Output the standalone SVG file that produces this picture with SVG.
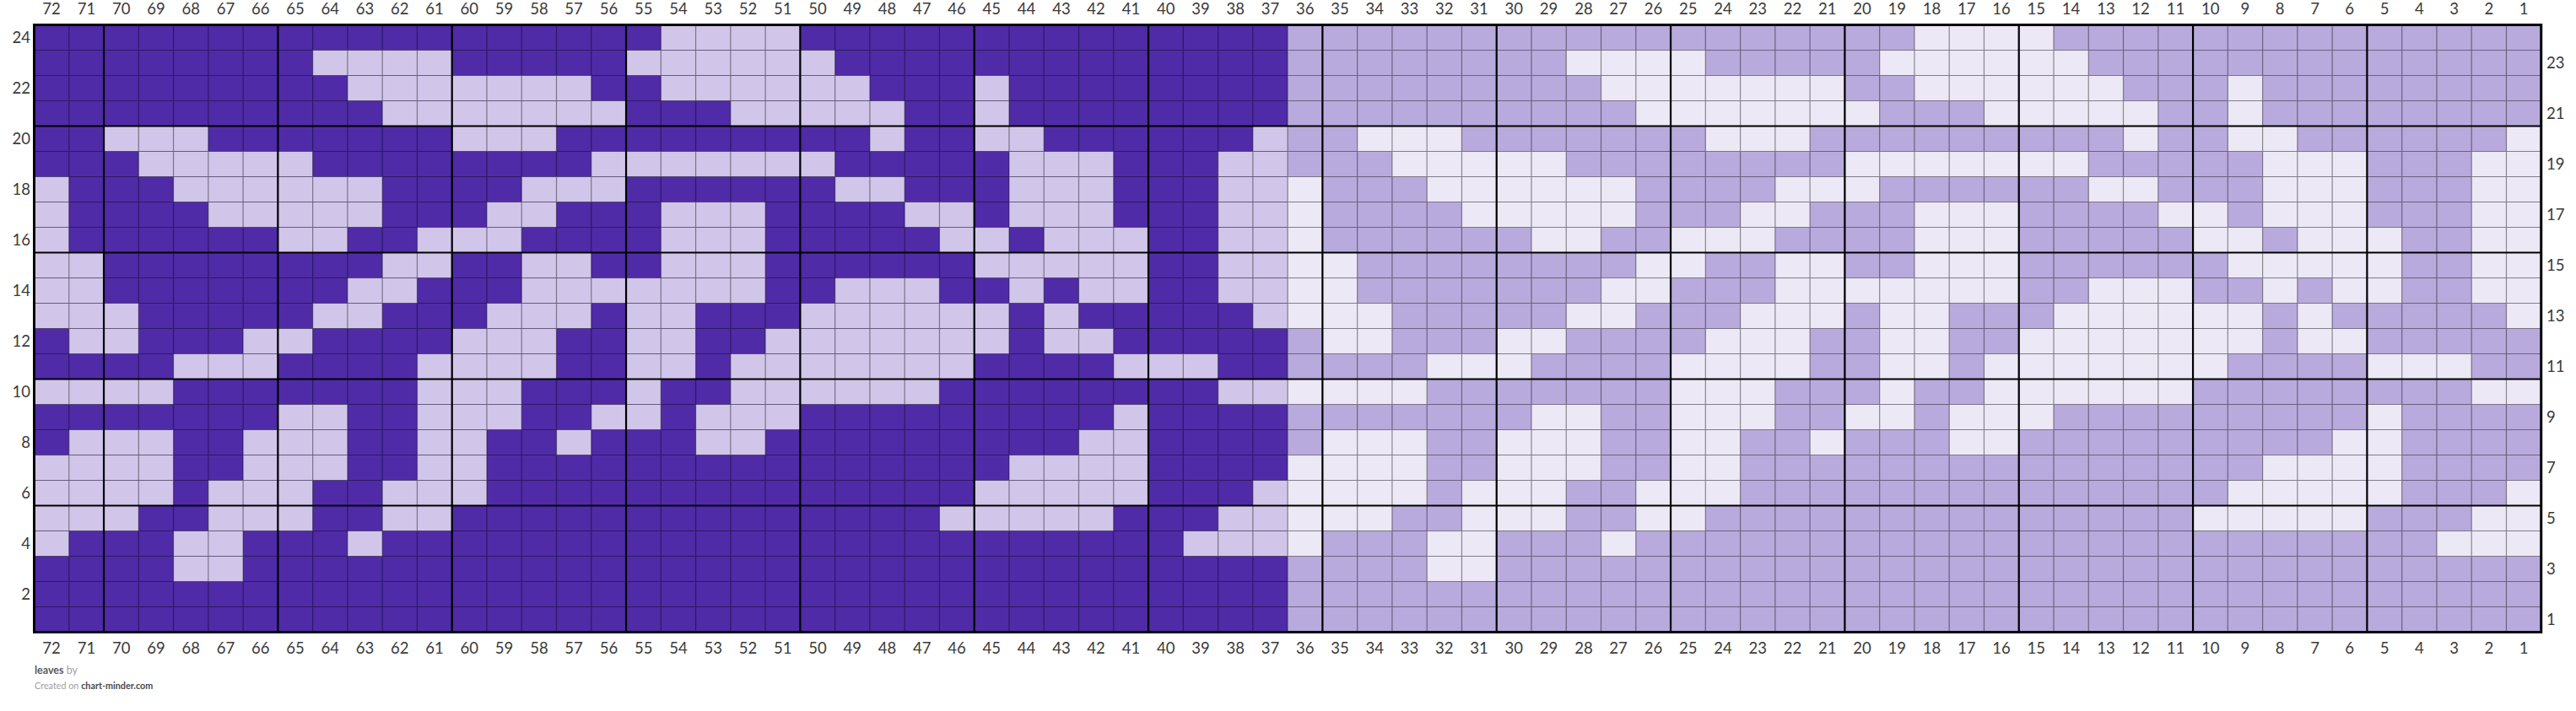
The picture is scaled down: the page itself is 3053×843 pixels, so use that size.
<svg xmlns="http://www.w3.org/2000/svg" xmlns:xlink="http://www.w3.org/1999/xlink" width="3053" height="843" viewBox="0 0 3053 843">
<style>
.lab{font-family:Lato,"Open Sans","Liberation Sans",sans-serif;font-size:18.5px;fill:#3a3a3a}
.c{text-anchor:middle}
.e{text-anchor:end}
.thin{fill:none;stroke:#000;stroke-opacity:.42;stroke-width:1.2}
.thick{fill:none;stroke:#000;stroke-width:2.2}
.border{fill:none;stroke:#000;stroke-width:3}
.foot{font-family:Lato,"Open Sans","Liberation Sans",sans-serif}
</style>
<defs>
<g id="lightRuns">
<rect x="18" y="0" width="4" height="1"/>
<rect x="8" y="1" width="4" height="1"/><rect x="17" y="1" width="6" height="1"/>
<rect x="9" y="2" width="7" height="1"/><rect x="18" y="2" width="6" height="1"/><rect x="27" y="2" width="1" height="1"/>
<rect x="10" y="3" width="7" height="1"/><rect x="20" y="3" width="5" height="1"/><rect x="27" y="3" width="1" height="1"/>
<rect x="2" y="4" width="3" height="1"/><rect x="12" y="4" width="3" height="1"/><rect x="24" y="4" width="1" height="1"/><rect x="27" y="4" width="2" height="1"/><rect x="35" y="4" width="1" height="1"/>
<rect x="3" y="5" width="5" height="1"/><rect x="16" y="5" width="7" height="1"/><rect x="28" y="5" width="3" height="1"/><rect x="34" y="5" width="2" height="1"/>
<rect x="0" y="6" width="1" height="1"/><rect x="4" y="6" width="6" height="1"/><rect x="14" y="6" width="3" height="1"/><rect x="23" y="6" width="2" height="1"/><rect x="28" y="6" width="3" height="1"/><rect x="34" y="6" width="2" height="1"/>
<rect x="0" y="7" width="1" height="1"/><rect x="5" y="7" width="5" height="1"/><rect x="13" y="7" width="2" height="1"/><rect x="18" y="7" width="3" height="1"/><rect x="25" y="7" width="2" height="1"/><rect x="28" y="7" width="3" height="1"/><rect x="34" y="7" width="2" height="1"/>
<rect x="0" y="8" width="1" height="1"/><rect x="7" y="8" width="2" height="1"/><rect x="11" y="8" width="3" height="1"/><rect x="18" y="8" width="3" height="1"/><rect x="26" y="8" width="2" height="1"/><rect x="29" y="8" width="3" height="1"/><rect x="34" y="8" width="2" height="1"/>
<rect x="0" y="9" width="2" height="1"/><rect x="10" y="9" width="2" height="1"/><rect x="14" y="9" width="2" height="1"/><rect x="18" y="9" width="3" height="1"/><rect x="27" y="9" width="5" height="1"/><rect x="34" y="9" width="2" height="1"/>
<rect x="0" y="10" width="2" height="1"/><rect x="9" y="10" width="2" height="1"/><rect x="14" y="10" width="7" height="1"/><rect x="23" y="10" width="3" height="1"/><rect x="28" y="10" width="1" height="1"/><rect x="30" y="10" width="2" height="1"/><rect x="34" y="10" width="2" height="1"/>
<rect x="0" y="11" width="3" height="1"/><rect x="8" y="11" width="2" height="1"/><rect x="13" y="11" width="3" height="1"/><rect x="17" y="11" width="2" height="1"/><rect x="22" y="11" width="6" height="1"/><rect x="29" y="11" width="1" height="1"/><rect x="35" y="11" width="1" height="1"/>
<rect x="1" y="12" width="2" height="1"/><rect x="6" y="12" width="2" height="1"/><rect x="12" y="12" width="3" height="1"/><rect x="17" y="12" width="2" height="1"/><rect x="21" y="12" width="7" height="1"/><rect x="29" y="12" width="2" height="1"/>
<rect x="4" y="13" width="3" height="1"/><rect x="11" y="13" width="4" height="1"/><rect x="17" y="13" width="2" height="1"/><rect x="20" y="13" width="7" height="1"/><rect x="31" y="13" width="3" height="1"/>
<rect x="0" y="14" width="4" height="1"/><rect x="11" y="14" width="3" height="1"/><rect x="17" y="14" width="1" height="1"/><rect x="20" y="14" width="6" height="1"/><rect x="34" y="14" width="2" height="1"/>
<rect x="7" y="15" width="2" height="1"/><rect x="11" y="15" width="3" height="1"/><rect x="16" y="15" width="2" height="1"/><rect x="19" y="15" width="3" height="1"/><rect x="31" y="15" width="1" height="1"/>
<rect x="1" y="16" width="3" height="1"/><rect x="6" y="16" width="3" height="1"/><rect x="11" y="16" width="2" height="1"/><rect x="15" y="16" width="1" height="1"/><rect x="19" y="16" width="2" height="1"/><rect x="30" y="16" width="2" height="1"/>
<rect x="0" y="17" width="4" height="1"/><rect x="6" y="17" width="3" height="1"/><rect x="11" y="17" width="2" height="1"/><rect x="28" y="17" width="4" height="1"/>
<rect x="0" y="18" width="4" height="1"/><rect x="5" y="18" width="3" height="1"/><rect x="10" y="18" width="3" height="1"/><rect x="27" y="18" width="5" height="1"/><rect x="35" y="18" width="1" height="1"/>
<rect x="0" y="19" width="3" height="1"/><rect x="5" y="19" width="3" height="1"/><rect x="10" y="19" width="2" height="1"/><rect x="26" y="19" width="5" height="1"/><rect x="34" y="19" width="2" height="1"/>
<rect x="0" y="20" width="1" height="1"/><rect x="4" y="20" width="2" height="1"/><rect x="9" y="20" width="1" height="1"/><rect x="33" y="20" width="3" height="1"/>
<rect x="4" y="21" width="2" height="1"/>
</g>
</defs>
<rect x="0" y="0" width="3053" height="843" fill="#ffffff"/>
<g id="chart" transform="translate(40.5,29.5) scale(41.267,30)">
<rect x="0" y="0" width="36" height="24" fill="#4f2ba7"/>
<rect x="36" y="0" width="36" height="24" fill="#b8aadc"/>
<use xlink:href="#lightRuns" href="#lightRuns" fill="#d1c6e9"/>
<use xlink:href="#lightRuns" href="#lightRuns" x="36" fill="#ede8f5"/>
<path class="thin" vector-effect="non-scaling-stroke" d="M1 0V24M2 0V24M3 0V24M4 0V24M5 0V24M6 0V24M7 0V24M8 0V24M9 0V24M10 0V24M11 0V24M12 0V24M13 0V24M14 0V24M15 0V24M16 0V24M17 0V24M18 0V24M19 0V24M20 0V24M21 0V24M22 0V24M23 0V24M24 0V24M25 0V24M26 0V24M27 0V24M28 0V24M29 0V24M30 0V24M31 0V24M32 0V24M33 0V24M34 0V24M35 0V24M36 0V24M37 0V24M38 0V24M39 0V24M40 0V24M41 0V24M42 0V24M43 0V24M44 0V24M45 0V24M46 0V24M47 0V24M48 0V24M49 0V24M50 0V24M51 0V24M52 0V24M53 0V24M54 0V24M55 0V24M56 0V24M57 0V24M58 0V24M59 0V24M60 0V24M61 0V24M62 0V24M63 0V24M64 0V24M65 0V24M66 0V24M67 0V24M68 0V24M69 0V24M70 0V24M71 0V24M0 1H72M0 2H72M0 3H72M0 4H72M0 5H72M0 6H72M0 7H72M0 8H72M0 9H72M0 10H72M0 11H72M0 12H72M0 13H72M0 14H72M0 15H72M0 16H72M0 17H72M0 18H72M0 19H72M0 20H72M0 21H72M0 22H72M0 23H72"/>
<path class="thick" vector-effect="non-scaling-stroke" d="M2 0V24M7 0V24M12 0V24M17 0V24M22 0V24M27 0V24M32 0V24M37 0V24M42 0V24M47 0V24M52 0V24M57 0V24M62 0V24M67 0V24M0 4H72M0 9H72M0 14H72M0 19H72"/>
<rect class="border" vector-effect="non-scaling-stroke" x="0" y="0" width="72" height="24"/>
</g>
<g id="col-labels-top" class="lab c">
<text x="61.1" y="17.3">72</text><text x="102.4" y="17.3">71</text><text x="143.7" y="17.3">70</text><text x="184.9" y="17.3">69</text><text x="226.2" y="17.3">68</text><text x="267.5" y="17.3">67</text><text x="308.7" y="17.3">66</text><text x="350.0" y="17.3">65</text><text x="391.3" y="17.3">64</text><text x="432.5" y="17.3">63</text><text x="473.8" y="17.3">62</text><text x="515.1" y="17.3">61</text><text x="556.3" y="17.3">60</text><text x="597.6" y="17.3">59</text><text x="638.9" y="17.3">58</text><text x="680.1" y="17.3">57</text><text x="721.4" y="17.3">56</text><text x="762.7" y="17.3">55</text><text x="803.9" y="17.3">54</text><text x="845.2" y="17.3">53</text><text x="886.5" y="17.3">52</text><text x="927.7" y="17.3">51</text><text x="969.0" y="17.3">50</text><text x="1010.3" y="17.3">49</text><text x="1051.5" y="17.3">48</text><text x="1092.8" y="17.3">47</text><text x="1134.1" y="17.3">46</text><text x="1175.3" y="17.3">45</text><text x="1216.6" y="17.3">44</text><text x="1257.9" y="17.3">43</text><text x="1299.1" y="17.3">42</text><text x="1340.4" y="17.3">41</text><text x="1381.7" y="17.3">40</text><text x="1422.9" y="17.3">39</text><text x="1464.2" y="17.3">38</text><text x="1505.5" y="17.3">37</text><text x="1546.7" y="17.3">36</text><text x="1588.0" y="17.3">35</text><text x="1629.3" y="17.3">34</text><text x="1670.5" y="17.3">33</text><text x="1711.8" y="17.3">32</text><text x="1753.1" y="17.3">31</text><text x="1794.3" y="17.3">30</text><text x="1835.6" y="17.3">29</text><text x="1876.9" y="17.3">28</text><text x="1918.1" y="17.3">27</text><text x="1959.4" y="17.3">26</text><text x="2000.7" y="17.3">25</text><text x="2041.9" y="17.3">24</text><text x="2083.2" y="17.3">23</text><text x="2124.5" y="17.3">22</text><text x="2165.7" y="17.3">21</text><text x="2207.0" y="17.3">20</text><text x="2248.3" y="17.3">19</text><text x="2289.5" y="17.3">18</text><text x="2330.8" y="17.3">17</text><text x="2372.1" y="17.3">16</text><text x="2413.3" y="17.3">15</text><text x="2454.6" y="17.3">14</text><text x="2495.9" y="17.3">13</text><text x="2537.1" y="17.3">12</text><text x="2578.4" y="17.3">11</text><text x="2619.7" y="17.3">10</text><text x="2660.9" y="17.3">9</text><text x="2702.2" y="17.3">8</text><text x="2743.5" y="17.3">7</text><text x="2784.7" y="17.3">6</text><text x="2826.0" y="17.3">5</text><text x="2867.3" y="17.3">4</text><text x="2908.5" y="17.3">3</text><text x="2949.8" y="17.3">2</text><text x="2991.1" y="17.3">1</text>
</g>
<g id="col-labels-bottom" class="lab c">
<text x="61.1" y="775">72</text><text x="102.4" y="775">71</text><text x="143.7" y="775">70</text><text x="184.9" y="775">69</text><text x="226.2" y="775">68</text><text x="267.5" y="775">67</text><text x="308.7" y="775">66</text><text x="350.0" y="775">65</text><text x="391.3" y="775">64</text><text x="432.5" y="775">63</text><text x="473.8" y="775">62</text><text x="515.1" y="775">61</text><text x="556.3" y="775">60</text><text x="597.6" y="775">59</text><text x="638.9" y="775">58</text><text x="680.1" y="775">57</text><text x="721.4" y="775">56</text><text x="762.7" y="775">55</text><text x="803.9" y="775">54</text><text x="845.2" y="775">53</text><text x="886.5" y="775">52</text><text x="927.7" y="775">51</text><text x="969.0" y="775">50</text><text x="1010.3" y="775">49</text><text x="1051.5" y="775">48</text><text x="1092.8" y="775">47</text><text x="1134.1" y="775">46</text><text x="1175.3" y="775">45</text><text x="1216.6" y="775">44</text><text x="1257.9" y="775">43</text><text x="1299.1" y="775">42</text><text x="1340.4" y="775">41</text><text x="1381.7" y="775">40</text><text x="1422.9" y="775">39</text><text x="1464.2" y="775">38</text><text x="1505.5" y="775">37</text><text x="1546.7" y="775">36</text><text x="1588.0" y="775">35</text><text x="1629.3" y="775">34</text><text x="1670.5" y="775">33</text><text x="1711.8" y="775">32</text><text x="1753.1" y="775">31</text><text x="1794.3" y="775">30</text><text x="1835.6" y="775">29</text><text x="1876.9" y="775">28</text><text x="1918.1" y="775">27</text><text x="1959.4" y="775">26</text><text x="2000.7" y="775">25</text><text x="2041.9" y="775">24</text><text x="2083.2" y="775">23</text><text x="2124.5" y="775">22</text><text x="2165.7" y="775">21</text><text x="2207.0" y="775">20</text><text x="2248.3" y="775">19</text><text x="2289.5" y="775">18</text><text x="2330.8" y="775">17</text><text x="2372.1" y="775">16</text><text x="2413.3" y="775">15</text><text x="2454.6" y="775">14</text><text x="2495.9" y="775">13</text><text x="2537.1" y="775">12</text><text x="2578.4" y="775">11</text><text x="2619.7" y="775">10</text><text x="2660.9" y="775">9</text><text x="2702.2" y="775">8</text><text x="2743.5" y="775">7</text><text x="2784.7" y="775">6</text><text x="2826.0" y="775">5</text><text x="2867.3" y="775">4</text><text x="2908.5" y="775">3</text><text x="2949.8" y="775">2</text><text x="2991.1" y="775">1</text>
</g>
<g id="row-labels-left" class="lab e">
<text x="36" y="51">24</text><text x="36" y="111">22</text><text x="36" y="171">20</text><text x="36" y="231">18</text><text x="36" y="291">16</text><text x="36" y="351">14</text><text x="36" y="411">12</text><text x="36" y="471">10</text><text x="36" y="531">8</text><text x="36" y="591">6</text><text x="36" y="651">4</text><text x="36" y="711">2</text>
</g>
<g id="row-labels-right" class="lab">
<text x="3018" y="81">23</text><text x="3018" y="141">21</text><text x="3018" y="201">19</text><text x="3018" y="261">17</text><text x="3018" y="321">15</text><text x="3018" y="381">13</text><text x="3018" y="441">11</text><text x="3018" y="501">9</text><text x="3018" y="561">7</text><text x="3018" y="621">5</text><text x="3018" y="681">3</text><text x="3018" y="741">1</text>
</g>
<g id="footer" class="foot">
<text x="41" y="798.5" font-size="12.5"><tspan font-weight="bold" fill="#5a5a5a">leaves</tspan><tspan fill="#a0a0a0"> by</tspan></text>
<text x="41" y="817" font-size="10.8"><tspan fill="#a0a0a0">Created on </tspan><tspan font-weight="bold" fill="#4a4a4a">chart-minder.com</tspan></text>
</g>
</svg>
